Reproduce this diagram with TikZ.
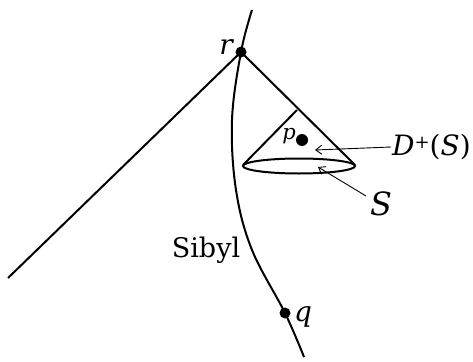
\documentclass[tikz,border=0pt]{standalone}
\usepackage{fontspec}
\setmainfont{DejaVu Serif}
\usetikzlibrary{arrows.meta}
\begin{document}
\begin{tikzpicture}[x=1pt,y=-1pt,
  thick line/.style={line width=2pt},
  pointer/.style={line width=0.9pt,-{Straight Barb[length=6pt,width=9pt]}},
  dotnode/.style={circle,fill=black,inner sep=0pt,minimum size=11pt},
  lab/.style={inner sep=1pt,font=\fontsize{28}{32}\selectfont\itshape}]
\useasboundingbox (0,0) rectangle (473,361);
% points
\node[dotnode] (r) at (241,52) {};
\node[dotnode] (q) at (285,313) {};
\node[dotnode,minimum size=12pt] (p) at (302,140) {};
\coordinate (top) at (252,10);
\coordinate (bot) at (304,357);
\coordinate (left) at (8,278);
\coordinate (apex) at (297,110);
\coordinate (bl) at (243,165);
\coordinate (br) at (355,165);
% worldline
\draw[thick line] plot[smooth,tension=0.6] coordinates {(top) (r) (232,120) (236,190) (252,250) (q) (bot)};
% light cone of r
\draw[thick line] (left) -- (r.center) -- (br);
% D+(S)
\draw[thick line] (apex) -- (bl);
\draw[thick line] (299,166) ellipse [x radius=56, y radius=7.5];
% labels
\node[lab,anchor=east] (rl) at (234,47) {r};
\node[lab,font=\fontsize{21}{24}\selectfont\itshape,anchor=east] (pl) at (297,136) {p};
\node[lab,anchor=west] (ql) at (293,317) {q};
\node[lab,anchor=west] (dl) at (391,147) {D\raisebox{0.45ex}{\fontsize{18}{20}\selectfont\upshape+}\upshape(\itshape S\upshape)};
\node[lab,font=\fontsize{32}{36}\selectfont\itshape] (sl) at (381,204) {S};
\node[inner sep=1pt,font=\fontsize{27}{30}\selectfont] (sib) at (206,250) {Sibyl};
% pointers
\draw[pointer] (dl.west) -- (315,150);
\draw[pointer] (366,196) -- (318,167);
\end{tikzpicture}
\end{document}
